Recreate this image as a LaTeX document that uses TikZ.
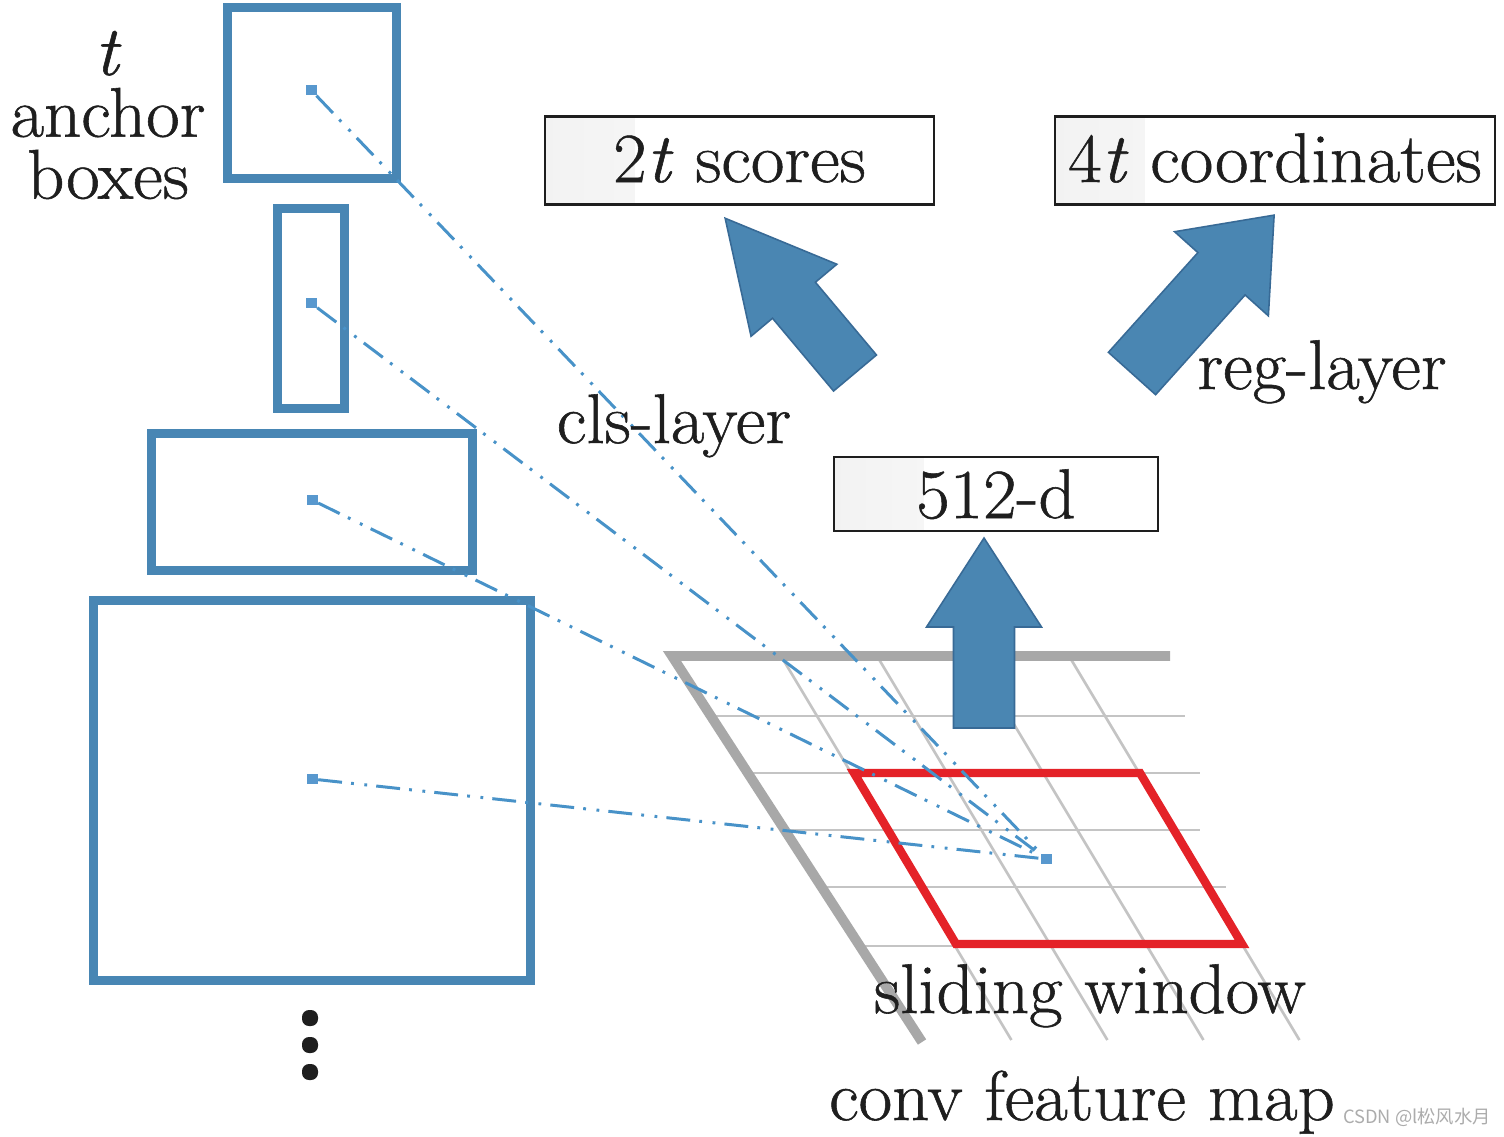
\documentclass[tikz,border=0pt]{standalone}
\usepackage{fontspec}
\setmainfont{Latin Modern Roman}[FakeStretch=1.035,FakeBold=0.8]
\newfontfamily\wmfont{Noto Sans CJK SC}
\usepackage{xcolor}
\usepackage{tikz}
\usetikzlibrary{calc}
\usetikzlibrary{positioning}
\definecolor{inkblack}{RGB}{30,30,30}
\definecolor{anchorblue}{RGB}{72,134,180}
\definecolor{dotblue}{RGB}{88,152,206}
\definecolor{projblue}{RGB}{72,146,200}
\definecolor{arrowfill}{RGB}{74,134,178}
\definecolor{arrowline}{RGB}{56,106,150}
\definecolor{winred}{RGB}{228,34,40}
\definecolor{gridthick}{RGB}{168,168,168}
\definecolor{gridthin}{RGB}{196,196,196}
\definecolor{wmgray}{RGB}{172,172,172}
\tikzset{
    lbl/.style={
        font=\fontsize{20}{17.6}\selectfont,
        text=inkblack,
        inner sep=0pt
    },
    outbox/.style={
        lbl,
        draw=inkblack,
        line width=0.7pt,
        fill=white,
        text height=#1,
        text depth=0pt,
        path picture={\shade[left color=black!5,right color=white]
            (path picture bounding box.north west) rectangle
            ($(path picture bounding box.south west)+(90,0)$);}
    },
    anchorbox/.style={
        draw=anchorblue,
        line width=2.56pt,
        inner sep=0pt
    },
    centerpt/.style={
        fill=dotblue,
        inner sep=0pt,
        minimum width=0.11cm,
        minimum height=0.10cm
    },
    proj/.style={
        draw=projblue,
        line width=0.85pt,
        dash pattern=on 6.8pt off 2.6pt on 0.8pt off 3pt on 0.8pt off 2.6pt
    },
    gridthin/.style={draw=gridthin, line width=0.75pt},
    gridedge/.style={draw=gridthick, line width=2.8pt},
    window/.style={draw=winred, line width=2.4pt},
    blockarr/.style={fill=arrowfill, draw=arrowline, line width=0.45pt},
    wm/.style={font=\wmfont\fontsize{5.2}{6}\selectfont, text=wmgray, inner sep=0pt}
}
% tail, angle, shaft half width, shaft length, head half width, length
\newcommand{\bigarrow}[6]{%
  \begin{scope}[shift={#1},rotate=#2]
    \draw[blockarr] (-#3,0) -- (-#3,-#4) -- (-#5,-#4) -- (0,-#6)
       -- (#5,-#4) -- (#3,-#4) -- (#3,0) -- cycle;
  \end{scope}}
\begin{document}
\begin{tikzpicture}[x=0.01cm,y=-0.01cm]
  \useasboundingbox (0,0) rectangle (1504,1136);
  \fill[white] (0,0) rectangle (1504,1136);

  % conv feature map
  \foreach \y/\xr in {716/1185,773/1200,830/1200,887/1226,946/1242}
    \draw[gridthin] ({672+0.648*(\y-656)},\y) -- (\xr,\y);
  \foreach \x in {781,877,973,1069}
    \draw[gridthin] (\x,656) -- ({\x+0.6*384},1040);
  \draw[gridedge] (1170,656) -- (672,656) -- (922,1042);
  \draw[window] (854,773) -- (1140,773) -- (1242,944) -- (956,944) -- cycle;

  % anchor boxes
  \foreach \n/\cx/\cy/\w/\h in {1/312/92.75/1.69/1.705,2/311/308.5/0.67/2.0,
                                3/312/502/3.21/1.37,4/312/790.5/4.37/3.8}
    \node[anchorbox, minimum width=\w cm, minimum height=\h cm] (box\n) at (\cx,\cy) {};
  \foreach \n/\cx/\cy in {1/311/90,2/311/303,3/312/500,4/312/779}
    \node[centerpt] (c\n) at (\cx,\cy) {};
  \node[centerpt] (win) at (1046,859) {};
  \foreach \n in {1,...,4}
    \draw[proj] (c\n) -- (win);

  \foreach \y in {1018,1045,1072}
    \fill[inkblack, rounded corners=2pt] (302,\y-8) rectangle (318,\y+8);

  % layers
  \bigarrow{(984,728)}{0}{30.5}{101}{57.5}{190}
  \bigarrow{(855,373)}{40}{28}{95}{56}{202}
  \bigarrow{(1132,373.5)}{-41.9}{31.7}{134}{63}{212.8}

  \node[outbox=0.43cm, minimum width=3.89cm, minimum height=0.88cm] (scores) at (739.5,160.5) {2\textit{t} scores};
  \node[outbox=0.43cm, minimum width=4.40cm, minimum height=0.88cm] (coords) at (1275,160.5) {4\textit{t} coordinates};
  \node[outbox=0.48cm, minimum width=3.24cm, minimum height=0.74cm] (feat) at (996,494) {512-d};

  \node[lbl, align=center] (anchors) at (108,115) {\textit{t}\\anchor\\boxes};
  \node[lbl, anchor=base] (cls) at (674,443) {cls-layer};
  \node[lbl, anchor=base] (reg) at (1322,389) {reg-layer};
  \node[lbl, anchor=base] (slide) at (1090,1013) {sliding window};
  \node[lbl, anchor=base] (fmap) at (1082,1120) {conv feature map};
  \node[wm] (mark) at (1417,1117) {CSDN @l松风水月};
\end{tikzpicture}
\end{document}
